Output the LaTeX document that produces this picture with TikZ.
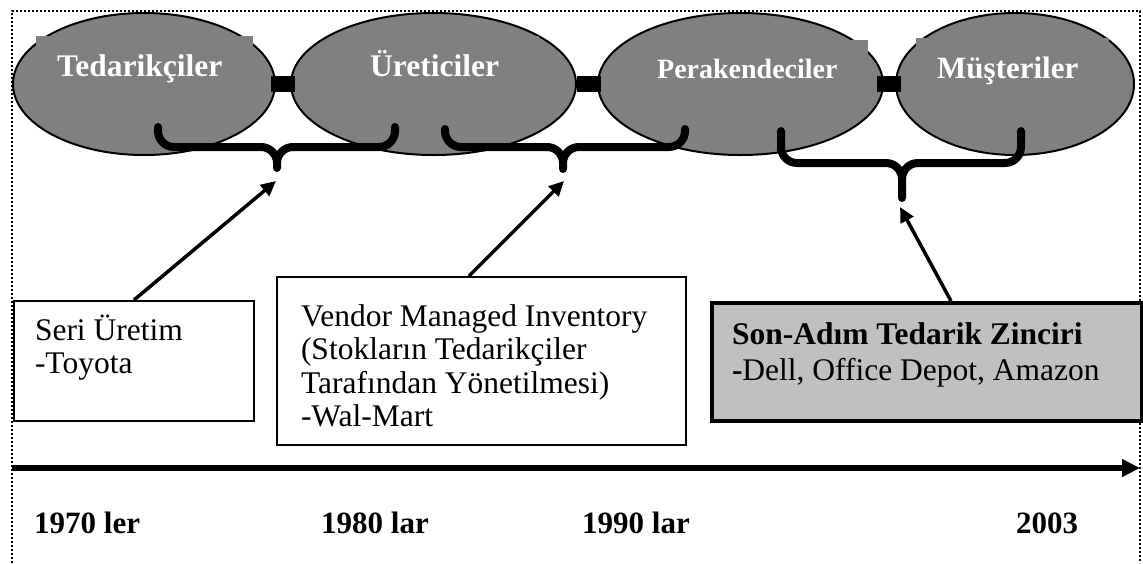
\documentclass[tikz,border=0pt]{standalone}
\usepackage{fontspec}
\setmainfont{Liberation Serif}
\usetikzlibrary{shapes.geometric,arrows.meta}
\definecolor{ellgray}{HTML}{808080}
\definecolor{boxgray}{HTML}{C0C0C0}
\tikzset{
	stage/.style={ellipse, draw, fill=ellgray, line width=2pt, inner sep=0pt, outer sep=0pt},
	stagename/.style={rectangle, fill=ellgray, text=white, font=\fontsize{31.5}{33.5}\selectfont\bfseries, inner xsep=21pt, inner ysep=0pt, align=flush left, anchor=north west, text depth=20pt},
	link/.style={line width=16pt},
	curlybrace/.style={line width=8pt, rounded corners=16pt, line cap=round, line join=round},
	infobox/.style={rectangle, draw, line width=2pt, fill=white, inner xsep=21pt, inner ysep=0pt, align=flush left, anchor=north west, font=\fontsize{31.5}{33.5}\selectfont},
	pointer/.style={line width=3.5pt, -{Triangle[length=15pt,width=14pt]}},
	timeline/.style={line width=5.5pt, -{Triangle[length=18pt,width=17pt]}},
	year/.style={anchor=base west, inner sep=0pt, font=\fontsize{31}{33}\selectfont\bfseries},
	dotframe/.style={line width=2pt, dash pattern=on 2pt off 2pt}
}
\begin{document}
\begin{tikzpicture}[x=1pt,y=-1pt]
	\useasboundingbox (0,0) rectangle (1143,563);
	\draw[dotframe] (12,563) -- (12,11) -- (1140,11) -- (1140,563);
	\node[stage, minimum width=262pt, minimum height=142pt] (ted) at (144,84) {};
	\node[stage, minimum width=285pt, minimum height=142pt] (ure) at (433.5,84) {};
	\node[stage, minimum width=285pt, minimum height=142pt] (per) at (740.5,84) {};
	\node[stage, minimum width=238pt, minimum height=142pt] (mus) at (1015,84) {};
	\draw[link] ([xshift=-4pt]ted.east) -- ([xshift=4pt]ure.west);
	\draw[link] ([xshift=1pt]ure.east) -- ([xshift=3pt]per.west);
	\draw[link] ([xshift=-6pt]per.east) -- ([xshift=5pt]mus.west);
	\node[stagename, text width=175pt, text height=40pt] (tedname) at (36,36) {Tedarikçiler};
	\node[stagename, text width=148pt, text height=40pt] (urename) at (349,36) {Üreticiler};
	\node[stagename, text width=190pt, text height=38pt, font=\fontsize{28}{30}\selectfont\bfseries] (pername) at (636,40) {Perakendeciler};
	\node[stagename, text width=151pt, text height=40pt, font=\fontsize{31}{33}\selectfont\bfseries] (musname) at (916,38) {Müşteriler};
	\draw[curlybrace] (158,127) |- (277,147) -- (277,168) (395,127) |- (277,147) -- (277,168);
	\draw[curlybrace] (445,129) |- (563,147) -- (563,169) (685,129) |- (563,147) -- (563,169);
	\draw[curlybrace] (781,131) |- (902,163) -- (902,198) (1021,131) |- (902,163) -- (902,198);
	\node[infobox, text width=198pt, text height=39pt, text depth=81pt] (serib) at (13,300) {Seri Üretim\\-Toyota};
	\node[infobox, inner xsep=24pt, text width=361pt, text height=49pt, text depth=119pt] (vmib) at (276,276) {Vendor Managed Inventory\\(Stokların Tedarikçiler\\Tarafından Yönetilmesi)\\-Wal-Mart};
	\node[infobox, fill=boxgray, line width=4pt, inner xsep=20.5pt, text width=389pt, text height=41pt, text depth=77pt] (sonb) at (709.5,301) {\textbf{Son-Adım Tedarik Zinciri}\\[2.5pt]\textbf{-}Dell, Office Depot, Amazon};
	\coordinate (tip1) at (276,181);
	\coordinate (tip2) at (564,181);
	\coordinate (tip3) at (900,207);
	\draw[pointer] (serib.north) -- (tip1);
	\draw[pointer] ([xshift=-12.5pt]vmib.north) -- (tip2);
	\draw[pointer] ([xshift=24.5pt]sonb.north) -- (tip3);
	\coordinate (tl0) at (12,468);
	\coordinate (tl1) at (1140,468);
	\draw[timeline] (tl0) -- (tl1);
	\node[year] (y1970) at (34,533) {1970 ler};
	\node[year] (y1980) at (321,533) {1980 lar};
	\node[year] (y1990) at (582,533) {1990 lar};
	\node[year] (y2003) at (1016,533) {2003};
\end{tikzpicture}
\end{document}
